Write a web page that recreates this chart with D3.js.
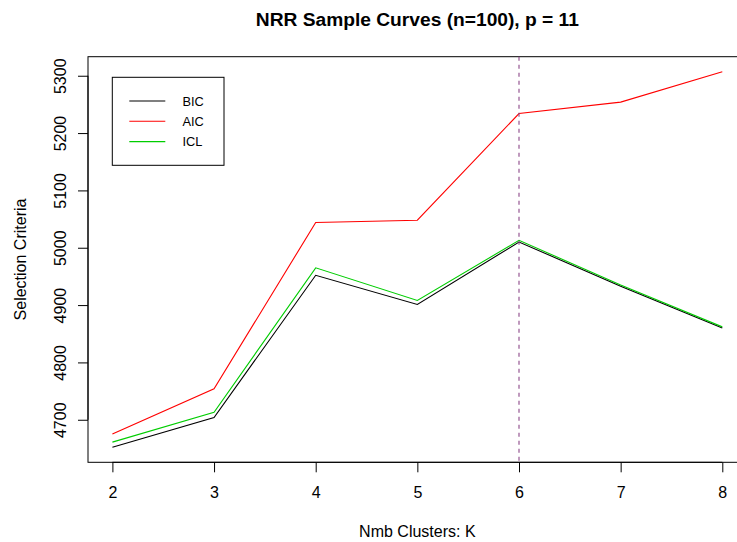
<!DOCTYPE html>
<html>
<head>
<meta charset="utf-8">
<script src="https://cdn.jsdelivr.net/npm/d3@7"></script>
<style>
  html, body { margin: 0; padding: 0; background: #fff; }
  svg { display: block; font-family: "Liberation Sans", Arial, Helvetica, sans-serif; }
</style>
</head>
<body>
<svg id="chart" width="737" height="542"></svg>
<script>
// Number of clusters evaluated
const clusters = [2, 3, 4, 5, 6, 7, 8];
// Selection criteria per K
const bic = [4652, 4704, 4952, 4901, 5010, 4933, 4860];
const aic = [4675, 4754, 5044, 5048, 5234, 5254, 5307];
const icl = [4661, 4713, 4965, 4908, 5013, 4935, 4862];
// Axis tick values
const xTicks = [2, 3, 4, 5, 6, 7, 8];
const yTicks = [4700, 4800, 4900, 5000, 5100, 5200, 5300];
// Chosen number of clusters (marked by the dashed line)
const chosenK = 6;

const seriesNames = ["BIC", "AIC", "ICL"];
const seriesColors = ["#000000", "#ff0000", "#00cd00"];
const seriesValues = [bic, aic, icl];

const svg = d3.select("#chart");

// Plot region (extends past the right edge of the canvas)
const plot = { left: 88, right: 746.7, top: 56.7, bottom: 462.3 };

// R-style 4% padding around the data range
function padded(lo, hi) {
  const p = (hi - lo) * 0.04;
  return [lo - p, hi + p];
}
const allVals = seriesValues.flat();
const x = d3.scaleLinear()
  .domain(padded(d3.min(clusters), d3.max(clusters)))
  .range([plot.left, plot.right]);
const y = d3.scaleLinear()
  .domain(padded(d3.min(allVals), d3.max(allVals)))
  .range([plot.bottom, plot.top]);

const baseFont = 16;

// Title
svg.append("text")
  .attr("x", (plot.left + plot.right) / 2)
  .attr("y", 26)
  .attr("text-anchor", "middle")
  .attr("font-size", baseFont * 1.2)
  .attr("font-weight", "bold")
  .text("NRR Sample Curves (n=100), p = 11");

// X axis
const xAxis = svg.append("g")
  .attr("transform", `translate(0,${plot.bottom})`)
  .call(d3.axisBottom(x).tickValues(xTicks).tickFormat(d3.format("d"))
    .tickSize(10).tickSizeOuter(0));
xAxis.select(".domain").remove();
xAxis.selectAll("text").attr("font-size", baseFont).attr("font-family", null).attr("dy", null)
  .attr("y", 36);
xAxis.selectAll("line").attr("stroke", "#000");

// Y axis
const yAxis = svg.append("g")
  .attr("transform", `translate(${plot.left},0)`)
  .call(d3.axisLeft(y).tickValues(yTicks).tickFormat(d3.format("d"))
    .tickSize(10).tickSizeOuter(0));
yAxis.select(".domain").remove();
yAxis.selectAll("line").attr("stroke", "#000");
yAxis.selectAll("text")
  .attr("font-size", baseFont).attr("font-family", null)
  .attr("x", null).attr("dy", null)
  .attr("text-anchor", "middle")
  .attr("transform", "translate(-22.5,0) rotate(-90)")
  .attr("y", 0);

// Axis lines spanning first to last tick
svg.append("line")
  .attr("x1", x(xTicks[0])).attr("x2", x(xTicks[xTicks.length - 1]))
  .attr("y1", plot.bottom).attr("y2", plot.bottom)
  .attr("stroke", "#000");
svg.append("line")
  .attr("x1", plot.left).attr("x2", plot.left)
  .attr("y1", y(yTicks[0])).attr("y2", y(yTicks[yTicks.length - 1]))
  .attr("stroke", "#000");

// Axis titles
svg.append("text")
  .attr("x", (plot.left + plot.right) / 2)
  .attr("y", 536.5)
  .attr("text-anchor", "middle")
  .attr("font-size", baseFont)
  .text("Nmb Clusters: K");
svg.append("text")
  .attr("transform", `translate(25.5,${(plot.top + plot.bottom) / 2}) rotate(-90)`)
  .attr("text-anchor", "middle")
  .attr("font-size", baseFont)
  .text("Selection Criteria");

// Plot box
svg.append("rect")
  .attr("x", plot.left).attr("y", plot.top)
  .attr("width", plot.right - plot.left).attr("height", plot.bottom - plot.top)
  .attr("fill", "none").attr("stroke", "#000");

// Series lines
const line = d3.line().x((d, i) => x(clusters[i])).y(d => y(d));
seriesValues.forEach((vals, i) => {
  svg.append("path")
    .datum(vals)
    .attr("d", line)
    .attr("fill", "none")
    .attr("stroke", seriesColors[i])
    .attr("stroke-width", 1.1);
});

// Dashed marker at the chosen K
svg.append("line")
  .attr("x1", x(chosenK)).attr("x2", x(chosenK))
  .attr("y1", plot.top).attr("y2", plot.bottom)
  .attr("stroke", "#8b4789")
  .attr("stroke-width", 1.1)
  .attr("stroke-dasharray", "4,4");

// Legend
const legend = svg.append("g");
legend.append("rect")
  .attr("x", 112.3).attr("y", 77.3)
  .attr("width", 111.7).attr("height", 88)
  .attr("fill", "#fff").attr("stroke", "#000");
seriesNames.forEach((name, i) => {
  const cy = 101 + i * 20.3;
  legend.append("line")
    .attr("x1", 129.3).attr("x2", 165.3)
    .attr("y1", cy).attr("y2", cy)
    .attr("stroke", seriesColors[i]).attr("stroke-width", 1.1);
  legend.append("text")
    .attr("x", 182.5).attr("y", cy + 4.6)
    .attr("font-size", 12.8)
    .text(name);
});
</script>
</body>
</html>
